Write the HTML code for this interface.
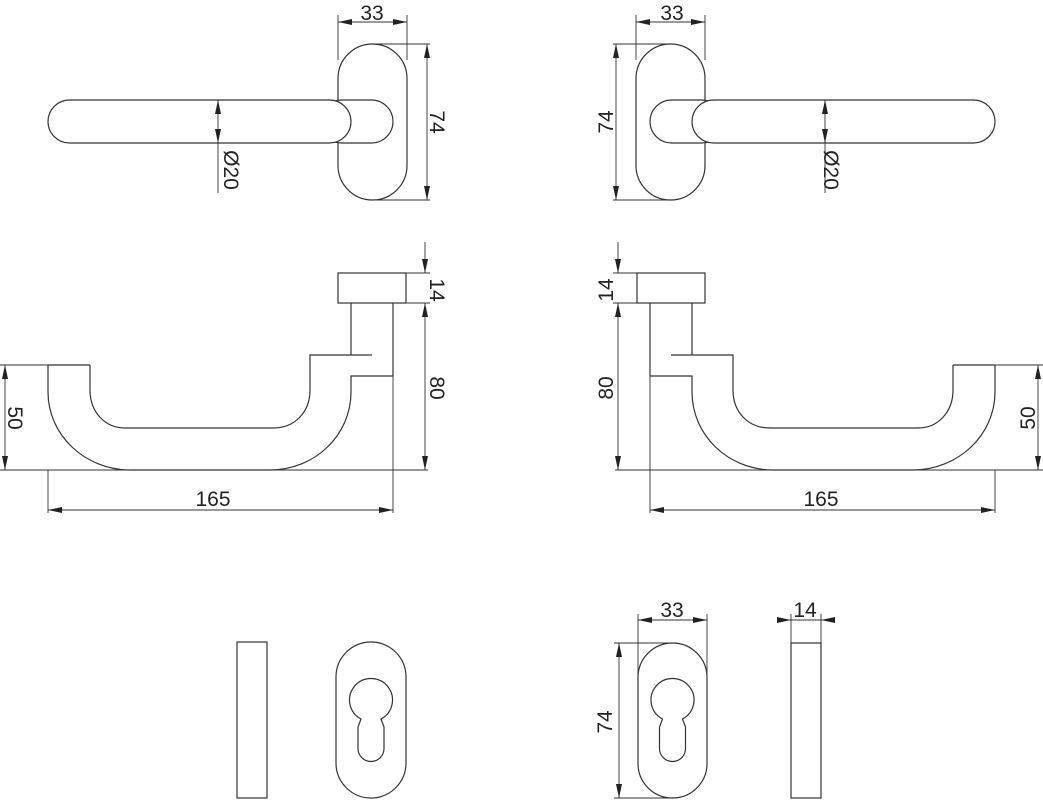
<!DOCTYPE html>
<html><head><meta charset="utf-8"><style>
html,body{margin:0;padding:0;background:#fff;}
svg{display:block}
text{font-family:"Liberation Sans",sans-serif;font-size:21px;fill:#222;}
</style></head><body>
<svg width="1043" height="800" viewBox="0 0 1043 800" xmlns="http://www.w3.org/2000/svg">
<defs>
<marker id="a" viewBox="0 0 14 6" refX="14" refY="3" markerWidth="14" markerHeight="6" markerUnits="userSpaceOnUse" orient="auto-start-reverse">
<path d="M0,0 L14,3 L0,6 Z" fill="#222"/>
</marker>
<g id="L" fill="none" stroke="#333" stroke-width="1.2">
  <rect x="338" y="44" width="69" height="156" rx="34.5" fill="#fff"/>
  <rect x="320" y="100" width="73" height="43" rx="21.5" fill="#fff"/>
  <rect x="48" y="100" width="303" height="43" rx="21.5" fill="#fff"/>
  <g stroke-width="0.9">
    <line x1="338" y1="15" x2="338" y2="60"/>
    <line x1="407" y1="15" x2="407" y2="60"/>
    <line x1="338" y1="22" x2="407" y2="22" marker-start="url(#a)" marker-end="url(#a)"/>
    <line x1="372" y1="44" x2="430" y2="44"/>
    <line x1="372" y1="200" x2="430" y2="200"/>
    <line x1="427" y1="44" x2="427" y2="200" marker-start="url(#a)" marker-end="url(#a)"/>
    <line x1="218" y1="100" x2="218" y2="143" marker-start="url(#a)" marker-end="url(#a)"/>
    <line x1="218" y1="143" x2="218" y2="193"/>
  </g>
  <rect x="338" y="273" width="68" height="30"/>
  <line x1="351" y1="303" x2="351" y2="355"/>
  <line x1="393" y1="303" x2="393" y2="376"/>
  <path d="M48,365 L48,392 C48,435 85,470 130,470 L270,470 C315,470 351,435 351,392 L351,376 L393,376"/>
  <path d="M90,365 L90,390 C90,412 105,428 125,428 L273,428 C295,428 310,412 310,390 L310,355 L372,355"/>
  <line x1="48" y1="365" x2="90" y2="365"/>
  <g stroke-width="0.9">
    <line x1="0" y1="365" x2="48" y2="365"/>
    <line x1="0" y1="470" x2="428" y2="470"/>
    <line x1="48" y1="470" x2="48" y2="513"/>
    <line x1="393" y1="376" x2="393" y2="513"/>
    <line x1="48" y1="510" x2="393" y2="510" marker-start="url(#a)" marker-end="url(#a)"/>
    <line x1="5" y1="365" x2="5" y2="470" marker-start="url(#a)" marker-end="url(#a)"/>
    <line x1="406" y1="273" x2="430" y2="273"/>
    <line x1="406" y1="303" x2="430" y2="303"/>
    <line x1="425" y1="242" x2="425" y2="273" marker-end="url(#a)"/>
    <line x1="425" y1="303" x2="425" y2="470" marker-start="url(#a)" marker-end="url(#a)"/>
  </g>
</g>
</defs>
<use href="#L"/>
<use href="#L" transform="translate(1043,0) scale(-1,1)"/>

<text x="372" y="20" text-anchor="middle">33</text>
<text x="672" y="20" text-anchor="middle">33</text>
<text transform="translate(430,122) rotate(90)" text-anchor="middle">74</text>
<text transform="translate(613,122) rotate(-90)" text-anchor="middle">74</text>
<text transform="translate(224,170) rotate(90)" text-anchor="middle">Ø20</text>
<text transform="translate(824,170) rotate(90)" text-anchor="middle">Ø20</text>
<text transform="translate(430,290) rotate(90)" text-anchor="middle">14</text>
<text transform="translate(613,290) rotate(-90)" text-anchor="middle">14</text>
<text transform="translate(430,388) rotate(90)" text-anchor="middle">80</text>
<text transform="translate(613,388) rotate(-90)" text-anchor="middle">80</text>
<text transform="translate(8,418) rotate(90)" text-anchor="middle">50</text>
<text transform="translate(1035,418) rotate(-90)" text-anchor="middle">50</text>
<text x="213" y="506" text-anchor="middle">165</text>
<text x="821" y="506" text-anchor="middle">165</text>

<g fill="none" stroke="#333" stroke-width="1.2">
  <rect x="237" y="642" width="30" height="156"/>
  <rect x="336" y="642" width="70" height="156" rx="35"/>
  <path d="M361,719 A21.5 21.5 0 1 1 381,719 L384,727 L384,748.5 A13 13 0 0 1 358,748.5 L358,727 Z"/>
  <rect x="638" y="643" width="69" height="155" rx="34.5"/>
  <path d="M662.5,719 A21.5 21.5 0 1 1 682.5,719 L685.5,727 L685.5,748.5 A13 13 0 0 1 659.5,748.5 L659.5,727 Z"/>
  <rect x="791" y="643" width="30" height="155"/>
  <g stroke-width="0.9">
    <line x1="638" y1="614" x2="638" y2="680"/>
    <line x1="707" y1="614" x2="707" y2="680"/>
    <line x1="638" y1="620" x2="707" y2="620" marker-start="url(#a)" marker-end="url(#a)"/>
    <line x1="614" y1="643" x2="672" y2="643"/>
    <line x1="614" y1="798" x2="672" y2="798"/>
    <line x1="619" y1="643" x2="619" y2="798" marker-start="url(#a)" marker-end="url(#a)"/>
    <line x1="791" y1="614" x2="791" y2="643"/>
    <line x1="821" y1="614" x2="821" y2="643"/>
    <line x1="778" y1="620" x2="791" y2="620" marker-end="url(#a)"/>
    <line x1="834" y1="620" x2="821" y2="620" marker-end="url(#a)"/>
    <line x1="791" y1="620" x2="821" y2="620"/>
  </g>
</g>
<text x="672" y="617" text-anchor="middle">33</text>
<text x="805" y="617" text-anchor="middle">14</text>
<text transform="translate(612,722) rotate(-90)" text-anchor="middle">74</text>
</svg>
</body></html>
